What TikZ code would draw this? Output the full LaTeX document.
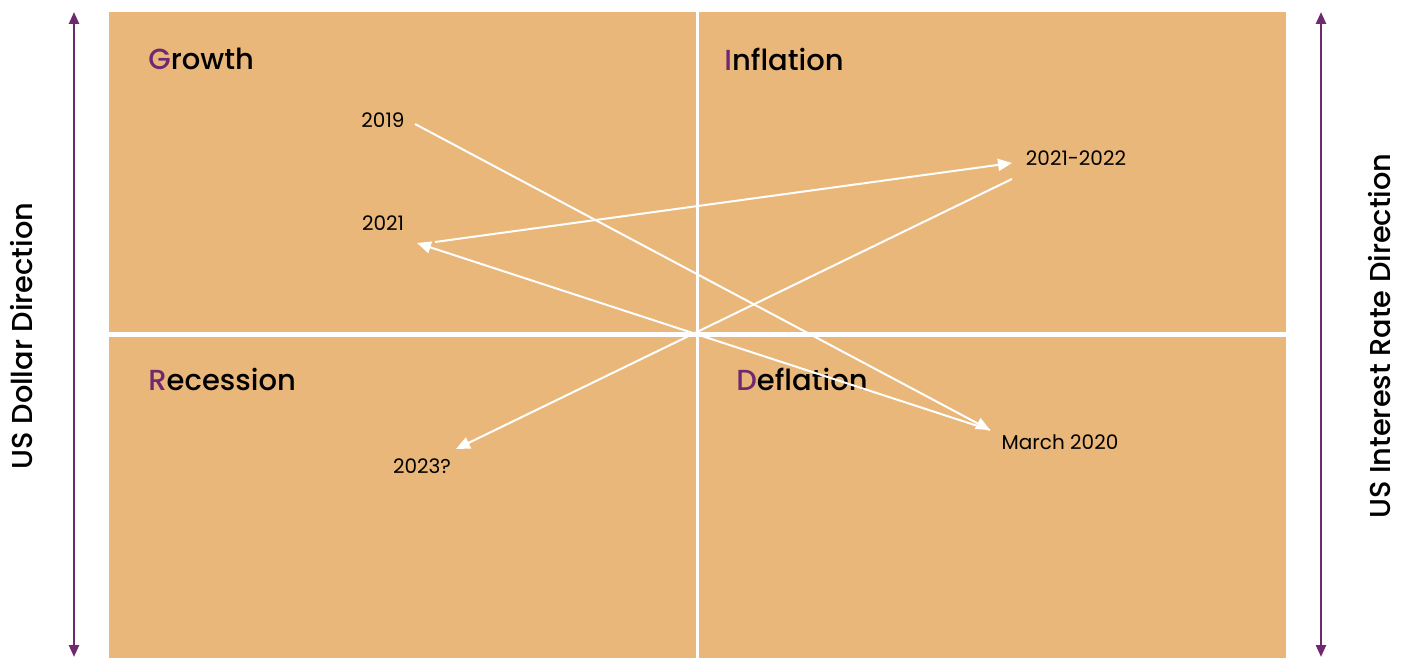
\documentclass[tikz,border=0pt]{standalone}
\usepackage{fontspec}
\setmainfont{Poppins}
\newfontfamily\medio{Poppins Medium}
\usetikzlibrary{arrows.meta}
\definecolor{naranja}{RGB}{233,183,122}
\definecolor{morado}{RGB}{112,40,110}

\begin{document}
\begin{tikzpicture}[x=0.5pt,y=-0.5pt,
	flecha/.style={white, line width=1pt, -{Triangle[length=7pt,width=6pt]}},
	eje/.style={morado, line width=1.2pt, {Triangle[length=6pt,width=5pt]}-{Triangle[length=6pt,width=5pt]}},
	cuadrante/.style={anchor=west, inner sep=0pt, font=\fontsize{14.5}{18}\selectfont\medio},
	anio/.style={inner sep=0pt, font=\fontsize{10}{12}\selectfont},
	titulo/.style={rotate=90, font=\fontsize{14.4}{18}\selectfont\medio}]
	\useasboundingbox (0,0) rectangle (1403,658);
	
	% Caja
	\fill[naranja] (109,12) rectangle (1286,658);
	\draw[white, line width=1.5pt] (697.5,12) -- (697.5,658);
	\draw[white, line width=2.5pt] (109,334.5) -- (1286,334.5);
	
	% Cuadrantes
	\node[cuadrante] (growth) at (148,59) {\textcolor{morado}{G}rowth};
	\node[cuadrante] (inflation) at (724,59) {\textcolor{morado}{I}nflation};
	\node[cuadrante] (recession) at (148,379) {\textcolor{morado}{R}ecession};
	\node[cuadrante] (deflation) at (736,379) {\textcolor{morado}{D}eflation};
	
	% Ejes
	\coordinate (izqA) at (74,12);
	\coordinate (izqB) at (74,657);
	\coordinate (derA) at (1321,12);
	\coordinate (derB) at (1321,657);
	\draw[eje] (izqA) -- (izqB);
	\draw[eje] (derA) -- (derB);
	\node[titulo] (dolar) at (22,336) {US Dollar Direction};
	\node[titulo] (tasa) at (1380,336) {US Interest Rate Direction};
	
	% Fechas
	\node[anio] (y2019) at (383,120) {2019};
	\node[anio] (y2021) at (383,223) {2021};
	\node[anio] (y2122) at (1076,158) {2021-2022};
	\node[anio] (y2020) at (1060,442) {March 2020};
	\node[anio] (y2023) at (422,466) {2023?};
	
	\coordinate (p2019) at (415,124);
	\coordinate (p2020) at (990,430);
	\coordinate (p2021a) at (417,243);
	\coordinate (p2021b) at (435,242);
	\coordinate (p2122a) at (1012,163);
	\coordinate (p2122b) at (1012,179);
	\coordinate (p2023) at (456,449);
	
	% Trayectoria
	\draw[flecha] (p2019) -- (p2020);
	\draw[flecha] (p2020) -- (p2021a);
	\draw[flecha] (p2021b) -- (p2122a);
	\draw[flecha] (p2122b) -- (p2023);
\end{tikzpicture}
\end{document}
